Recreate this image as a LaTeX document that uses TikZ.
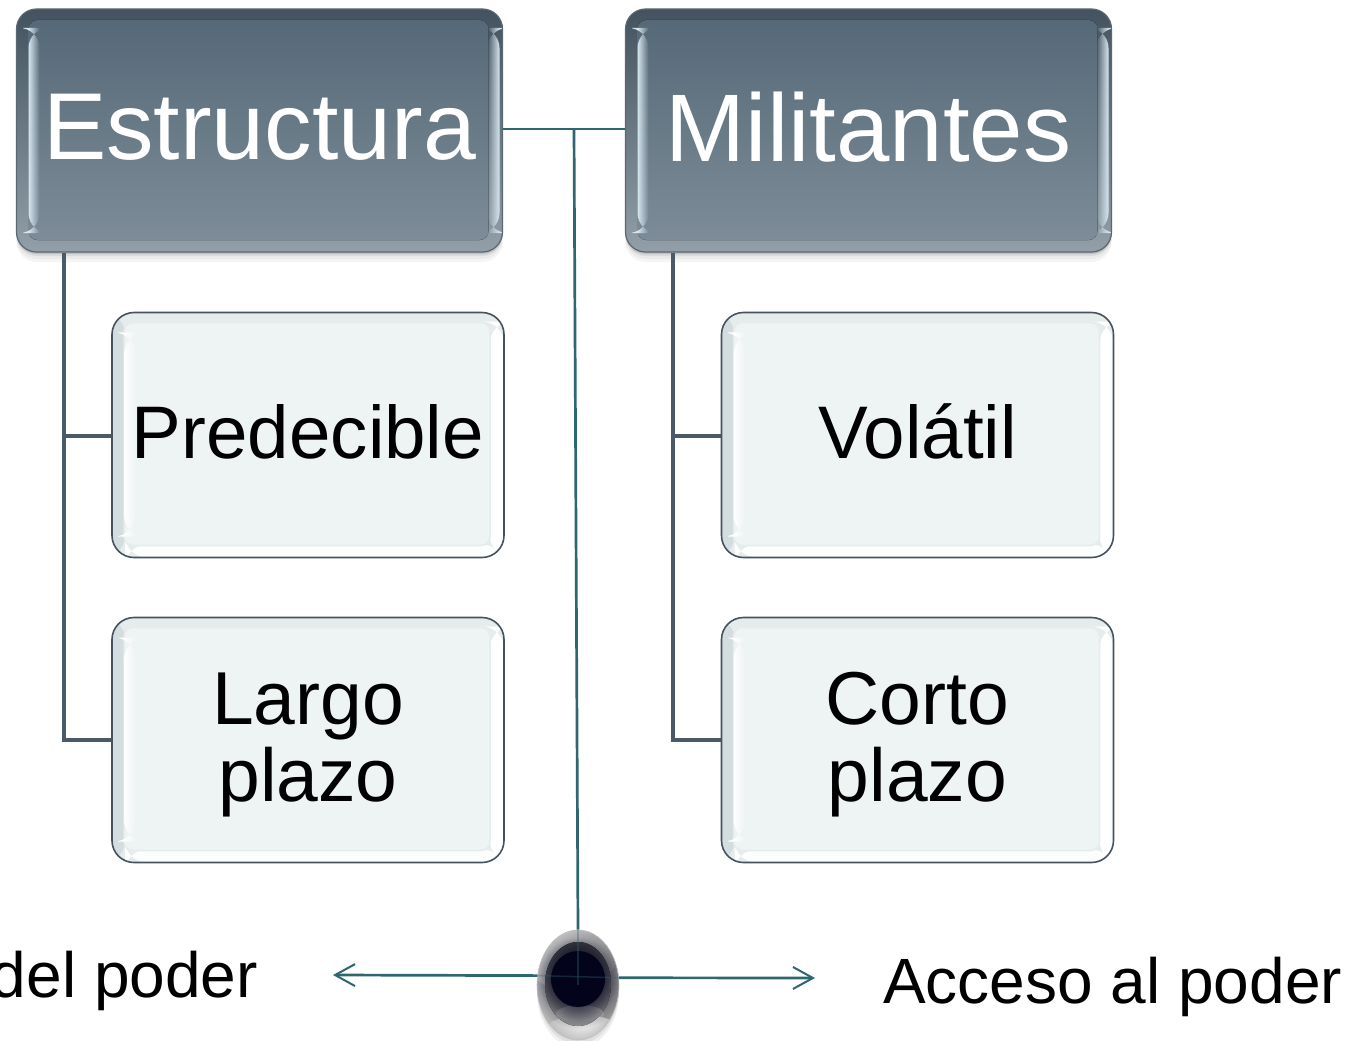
\documentclass[tikz,border=0pt]{standalone}
\usepackage{fontspec}
\setmainfont{Liberation Sans}
\usetikzlibrary{calc,shapes.geometric,fadings,arrows.meta}
\tikzfading[name=softout,inner color=transparent!0,outer color=transparent!100]
\definecolor{hdtop}{HTML}{546776}
\definecolor{hdbot}{HTML}{7F8E99}
\definecolor{hdedge}{HTML}{5A6873}
\definecolor{glint}{HTML}{D6E6F0}
\definecolor{chfill}{HTML}{EEF3F3}
\definecolor{chleft}{HTML}{D3DCDF}
\definecolor{chmid}{HTML}{E6ECEC}
\definecolor{chedge}{HTML}{46535E}
\definecolor{stem}{HTML}{4A5A68}
\definecolor{teal}{HTML}{2F6670}
\definecolor{HubCore}{HTML}{03031C}
\newcommand{\PB}{path picture bounding box}
\newcommand{\shifted}[2]{\raisebox{#1}[\height][\depth]{#2}}
\tikzset{
  x=1pt,y=-1pt,
  header/.style={rectangle,rounded corners=20pt,minimum width=486pt,minimum height=243pt,inner sep=0pt,
    draw=hdedge,line width=1.2pt,top color=hdtop!80!black,bottom color=hdbot!85!white,text=white,
    font=\fontsize{95}{95}\selectfont,
    preaction={fill=black!4,transform canvas={yshift=-10pt}},
    preaction={fill=black!8,transform canvas={yshift=-7pt}},
    preaction={fill=black!14,transform canvas={yshift=-4pt}},
    preaction={fill=black!25,transform canvas={yshift=-2pt}},
    path picture={
      \fill[rounded corners=9pt,top color=hdtop,bottom color=hdbot]
        ($(\PB.north west)+(12,11)$) rectangle ($(\PB.south east)+(-14,-12)$);
      \fill[glint,path fading=east] ($(\PB.north west)+(12,19)$) rectangle ($(\PB.south west)+(23,-19)$);
      \fill[glint,path fading=west] ($(\PB.north east)+(-15,19)$) rectangle ($(\PB.south east)+(-3,-19)$);
    }},
  child box/.style={rectangle,rounded corners=22pt,minimum width=392pt,minimum height=245pt,inner sep=0pt,
    draw=chedge,line width=1.6pt,fill=chmid,text=black,align=center,
    font=\fontsize{75}{77}\selectfont,
    path picture={
      \fill[left color=chleft,right color=chmid] (\PB.north west) rectangle ($(\PB.south west)+(13,0)$);
      \fill[white!85!chfill] ($(\PB.south west)+(13,-13)$) rectangle (\PB.south east);
      \fill[white] ($(\PB.north east)+(-14,9)$) rectangle (\PB.south east);
      \fill[rounded corners=9pt,chfill,draw=chmid,line width=1.5pt]
        ($(\PB.north west)+(12,10)$) rectangle ($(\PB.south east)+(-14,-12)$);
      \fill[white,path fading=east] ($(\PB.north west)+(12,20)$) rectangle ($(\PB.south west)+(24,-21)$);
    }},
  stemline/.style={draw=stem,line width=3.1pt},
  tealline/.style={draw=teal,line width=2.7pt},
  faintline/.style={draw=teal,line width=1.5pt,opacity=.35},
  tealarrow/.style={tealline,-{Straight Barb[length=20pt,width=22pt,line width=2pt]}},
  side label/.style={text=black,inner sep=0pt,font=\fontsize{64}{64}\selectfont},
  hubshape/.style={ellipse,minimum width=82pt,minimum height=110pt,inner sep=0pt,
    draw=gray!50,line width=.6pt,
    preaction={fill=black!6,transform canvas={yshift=-8pt}},
    preaction={fill=black!12,transform canvas={yshift=-4pt}},
    left color=gray!55,right color=gray!85,
    path picture={
      \fill[white,path fading=softout] (\PB.center) ++(-8,-34) ellipse [x radius=48,y radius=40];
      \fill[white,path fading=softout] (\PB.center) ++(5,48) ellipse [x radius=40,y radius=18];
      \fill[top color=black!70,bottom color=black!40] (\PB.center) ++(0,-1) ellipse [x radius=33,y radius=42];
      \fill[white!85!gray,path fading=south] (\PB.center) ++(2,29) ellipse [x radius=24,y radius=9];
      \fill[HubCore,path fading=softout] (\PB.center) ++(0,-6) ellipse [x radius=48,y radius=50];
      \fill[HubCore,path fading=softout] (\PB.center) ++(0,-6) ellipse [x radius=40,y radius=42];
      \fill[HubCore] (\PB.center) ++(0,-6) ellipse [x radius=27,y radius=28];
    }},
}
\begin{document}
\begin{tikzpicture}
\useasboundingbox (0,0) rectangle (1353,1041);
\fill[white] (0,0) rectangle (1353,1041);
\clip (0,0) rectangle (1353,1041);

\coordinate (jn) at (574,129);
\coordinate (lt) at (333,975);
\coordinate (rt) at (815,978);

\node[header] (est) at (259.5,130.5) {\shifted{3.5pt}{Estructura}};
\node[header,font=\fontsize{96}{96}\selectfont] (mil) at (868.5,130.5) {\shifted{3.5pt}{Militantes}};

\node[child box,font=\fontsize{74.5}{77}\selectfont] (pre) at (308,435) {\shifted{3.5pt}{Predecible}};
\node[child box] (lar) at (308,740) {\shifted{-5pt}{\parbox{300pt}{\centering Largo\\plazo}}};
\node[child box,font=\fontsize{74.5}{77}\selectfont] (vol) at (917.5,435) {\shifted{3.5pt}{Volátil}};
\node[child box] (cor) at (917.5,740) {\shifted{-5pt}{\parbox{300pt}{\centering Corto\\plazo}}};

\node[hubshape] (hub) at (578,985) {};

\node[side label,anchor=base east] (dp) at (258,997) {del poder};
\node[side label,anchor=base west] (ap) at (883,1003) {Acceso al poder};

\draw[stemline] (est.south -| 64,0) -- (64,740) -- (lar.west);
\draw[stemline] (64,436) -- (pre.west |- 0,436);
\draw[stemline] (mil.south -| 673,0) -- (673,740) -- (cor.west);
\draw[stemline] (673,436) -- (vol.west |- 0,436);

\draw[tealline] (est.east |- 0,129) -- (mil.west |- 0,129);
\draw[tealline] (jn) -- (hub.north);
\draw[tealarrow] (hub.167) -- (lt);
\draw[tealarrow] (hub.10) -- (rt);
\draw[faintline] (hub.north) -- (hub.center);
\draw[faintline] (hub.167) -- (hub.10);
\end{tikzpicture}
\end{document}
